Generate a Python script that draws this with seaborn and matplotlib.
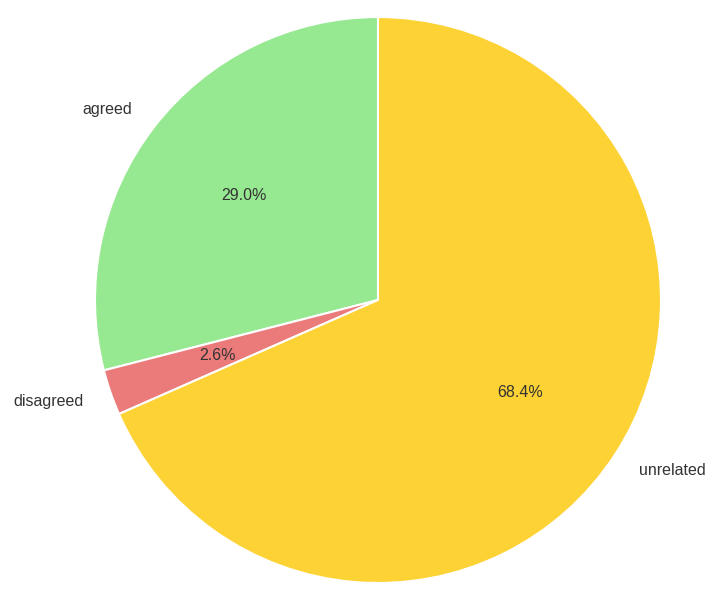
import matplotlib
matplotlib.use("Agg")
from matplotlib import pyplot as plt
import seaborn as sns

labels = ["agreed", "disagreed", "unrelated"]
shares = [29.0, 2.6, 68.4]
colors = ["#96E891", "#EB7B7B", "#FDD235"]

sns.set_theme(style="white")
plt.rcParams['font.family'] = ['Liberation Sans', 'DejaVu Sans']

fig = plt.figure(figsize=(7.25, 6), dpi=100)
ax = fig.add_axes([0, 0, 1, 1])
ax.pie(shares, labels=labels, colors=colors, autopct='%1.1f%%',
       startangle=90, counterclock=True,
       wedgeprops={'edgecolor': 'white', 'linewidth': 1.5},
       textprops={'color': '#333333', 'fontsize': 11.5})
ax.set_aspect('auto')
ax.set_xlim(-378 / 283, 347 / 283)
ax.set_ylim(-300 / 283, 300 / 283)
ax.axis('off')

fig.savefig("out.png", dpi=100)
